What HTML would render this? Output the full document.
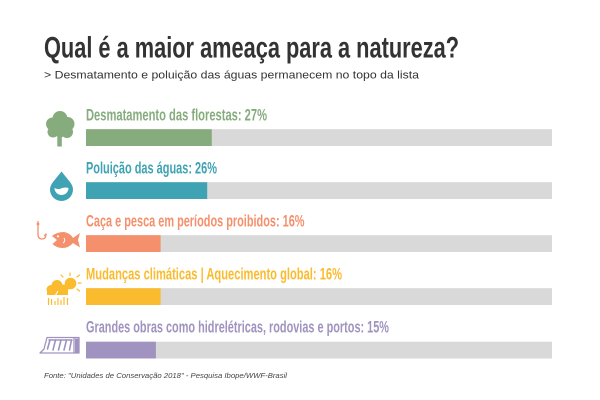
<!DOCTYPE html>
<html><head><meta charset="utf-8"><style>
html,body{margin:0;padding:0;background:#fff;}
svg{display:block;}
text{font-family:"Liberation Sans Narrow","Liberation Sans",sans-serif;}
</style></head><body>
<svg width="600" height="400" viewBox="0 0 600 400" xmlns="http://www.w3.org/2000/svg">
<rect width="600" height="400" fill="#fff"/>
<!-- Title -->
<text x="44" y="57.3" font-size="30" font-weight="bold" fill="#333" textLength="415" lengthAdjust="spacingAndGlyphs">Qual é a maior ameaça para a natureza?</text>
<text x="44" y="78.3" font-size="10.8" fill="#333" style="font-family:'Liberation Sans',sans-serif" textLength="375" lengthAdjust="spacingAndGlyphs">&gt; Desmatamento e poluição das águas permanecem no topo da lista</text>

<!-- Row 1 -->
<text x="86" y="120.5" font-size="16.5" font-weight="bold" fill="#86ac7e" textLength="181" lengthAdjust="spacingAndGlyphs">Desmatamento das florestas: 27%</text>
<rect x="86" y="129.2" width="466" height="16.8" fill="#d9d9d9"/>
<rect x="86" y="129.2" width="125.8" height="16.8" fill="#86ac7e"/>

<!-- Row 2 -->
<text x="86" y="173.5" font-size="16.5" font-weight="bold" fill="#3fa3b3" textLength="131" lengthAdjust="spacingAndGlyphs">Poluição das águas: 26%</text>
<rect x="86" y="182.2" width="466" height="16.8" fill="#d9d9d9"/>
<rect x="86" y="182.2" width="121.2" height="16.8" fill="#3fa3b3"/>

<!-- Row 3 -->
<text x="86" y="226.5" font-size="16.5" font-weight="bold" fill="#f4906c" textLength="218.5" lengthAdjust="spacingAndGlyphs">Caça e pesca em períodos proibidos: 16%</text>
<rect x="86" y="235.2" width="466" height="16.8" fill="#d9d9d9"/>
<rect x="86" y="235.2" width="74.6" height="16.8" fill="#f4906c"/>

<!-- Row 4 -->
<text x="86" y="279.5" font-size="16.5" font-weight="bold" fill="#fbbb2f" textLength="256" lengthAdjust="spacingAndGlyphs">Mudanças climáticas | Aquecimento global: 16%</text>
<rect x="86" y="288.2" width="466" height="16.8" fill="#d9d9d9"/>
<rect x="86" y="288.2" width="74.6" height="16.8" fill="#fbbb2f"/>

<!-- Row 5 -->
<text x="86" y="332.7" font-size="16.5" font-weight="bold" fill="#a093c0" textLength="303" lengthAdjust="spacingAndGlyphs">Grandes obras como hidrelétricas, rodovias e portos: 15%</text>
<rect x="86" y="341.7" width="466" height="16.8" fill="#d9d9d9"/>
<rect x="86" y="341.7" width="69.9" height="16.8" fill="#a093c0"/>

<!-- Source -->
<text x="44" y="378" font-size="7.5" font-style="italic" fill="#444" style="font-family:'Liberation Sans',sans-serif" textLength="243" lengthAdjust="spacingAndGlyphs">Fonte: "Unidades de Conservação 2018" - Pesquisa Ibope/WWF-Brasil</text>

<!-- Tree icon -->
<g fill="#86ac7e">
<circle cx="60" cy="118.5" r="7.5"/>
<circle cx="52.5" cy="124" r="6.5"/>
<circle cx="67.5" cy="124" r="7"/>
<circle cx="53" cy="132" r="5.5"/>
<circle cx="67" cy="132" r="6"/>
<circle cx="60" cy="129" r="7.5"/>
<rect x="57.3" y="132" width="4.5" height="14.5"/>
<path d="M58 137 L53 134 L54 133 L59 135Z M61 136 L66 133 L67 134 L61 138Z"/>
</g>

<!-- Drop icon -->
<path d="M61.5 171.5 Q57 177 53 182 Q50 186 50 189.5 A11.5 11.5 0 0 0 73 189.5 Q73 186 70 182 Q66 177 61.5 171.5Z" fill="#3fa3b3"/>
<path d="M54.5 188 Q58 190 61.5 188.3 Q65 186.8 68.5 188 A7 7 0 0 1 54.5 188Z" fill="#fff"/>

<!-- Fish + hook -->
<g fill="none" stroke="#f4906c" stroke-width="1.3" stroke-linecap="round">
<line x1="38" y1="221.5" x2="38" y2="234"/>
<path d="M38 234 Q38 239 42 239 Q46 239 46 234"/>
<line x1="46" y1="234" x2="44.5" y2="235.5"/>
</g>
<circle cx="38" cy="224" r="1.4" fill="#f4906c"/>
<path d="M52 236 Q57 232 64 232 Q70 233 73 238 L80 233 L78 240 L80 247.5 L73 243 Q69 248 62 248 Q56 247.5 52.5 244 L57 240 Z" fill="#f4906c"/>
<circle cx="58" cy="236.3" r="1.1" fill="#fff"/>
<path d="M64 238 Q66 241 63 243" stroke="#fff" stroke-width="0.9" fill="none"/>

<!-- Weather icon -->
<g stroke="#fbbb2f" stroke-width="1.2" stroke-linecap="round">
<line x1="70" y1="273" x2="70" y2="276"/>
<line x1="77" y1="277" x2="79.5" y2="275"/>
<line x1="78" y1="283" x2="81" y2="283"/>
<line x1="63" y1="277" x2="61" y2="275"/>
<line x1="77" y1="289" x2="79.5" y2="291"/>
</g>
<circle cx="70.5" cy="283.5" r="5.8" fill="#fbbb2f"/>
<circle cx="70.5" cy="283.5" r="7" fill="none" stroke="#fff" stroke-width="1"/>
<g fill="#fbbb2f">
<circle cx="57" cy="285.5" r="5.5"/>
<circle cx="51" cy="289.5" r="4.5"/>
<circle cx="64" cy="289" r="4.5"/>
<rect x="47" y="289" width="21" height="6"/>
</g>
<path d="M58 291 L55 296 L58 296 L56 300" stroke="#fff" stroke-width="1" fill="none"/>
<g stroke="#fbbb2f" stroke-width="1.2">
<line x1="48.5" y1="298" x2="48.5" y2="305"/>
<line x1="51.5" y1="299" x2="51.5" y2="305"/>
<line x1="55" y1="301" x2="55" y2="305"/>
<line x1="58" y1="298" x2="58" y2="305"/>
<line x1="61" y1="300" x2="61" y2="305"/>
<line x1="64" y1="297" x2="64" y2="305"/>
<line x1="67.5" y1="298" x2="67.5" y2="305"/>
</g>

<!-- Dam icon -->
<g fill="none" stroke="#a093c0" stroke-width="1.3" stroke-linejoin="round">
<path d="M47 337.5 L79 337.5 L79 353 L40 353 L44 349 Z"/>
<line x1="74" y1="337.5" x2="74" y2="353"/>
</g>
<g stroke="#a093c0" stroke-width="1.6" stroke-linecap="round">
<line x1="50" y1="340" x2="47.5" y2="349"/>
<line x1="55.5" y1="340" x2="53" y2="350"/>
<line x1="61" y1="340" x2="58.5" y2="350"/>
<line x1="66.5" y1="340" x2="64" y2="350"/>
<line x1="71.5" y1="340" x2="69.5" y2="350"/>
<line x1="49" y1="340" x2="72" y2="340"/>
</g>
<rect x="75" y="338.5" width="3.5" height="14" fill="#a093c0"/>
</svg>
</body></html>
